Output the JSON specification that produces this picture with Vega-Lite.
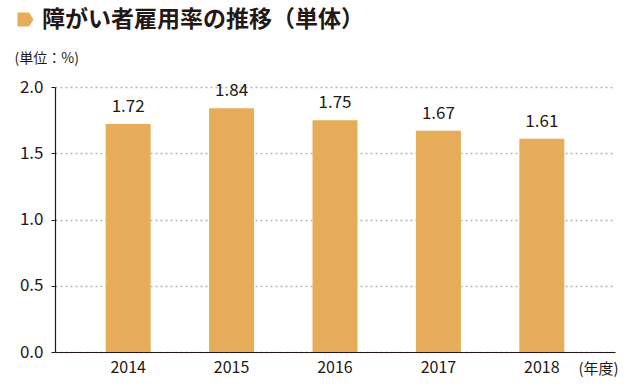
{
  "$schema": "https://vega.github.io/schema/vega-lite/v6.json",
  "autosize": "none",
  "width": 560,
  "height": 265,
  "padding": {"left": 55, "top": 87, "right": 25, "bottom": 38},
  "background": "white",
  "config": {
    "font": "Noto Sans CJK JP",
    "view": {"stroke": null}
  },
  "data": {
    "values": [
      {"year": "2014", "rate": 1.72, "series": "障がい者雇用率の推移（単体）"},
      {"year": "2015", "rate": 1.84, "series": "障がい者雇用率の推移（単体）"},
      {"year": "2016", "rate": 1.75, "series": "障がい者雇用率の推移（単体）"},
      {"year": "2017", "rate": 1.67, "series": "障がい者雇用率の推移（単体）"},
      {"year": "2018", "rate": 1.61, "series": "障がい者雇用率の推移（単体）"}
    ]
  },
  "encoding": {
    "x": {
      "field": "year",
      "type": "nominal",
      "sort": null,
      "scale": {"paddingInner": 0.565, "paddingOuter": 0.49},
      "axis": {
        "title": "(年度)",
        "titleFontSize": 15,
        "titleFontWeight": "normal",
        "titleColor": "#231815",
        "titleAlign": "center",
        "titleBaseline": "middle",
        "titleX": 543,
        "titleY": 16,
        "labelAngle": 0,
        "labelFontSize": 16,
        "labelColor": "#231815",
        "labelPadding": 7,
        "ticks": false,
        "domainColor": "#231815",
        "domainWidth": 1.2,
        "grid": false
      }
    },
    "y": {
      "field": "rate",
      "type": "quantitative",
      "scale": {"domain": [0, 2], "nice": false},
      "axis": {
        "title": "(単位：%)",
        "titleAngle": 0,
        "titleAlign": "left",
        "titleBaseline": "middle",
        "titleX": -41,
        "titleY": -29,
        "titleFontSize": 14,
        "titleFontWeight": "normal",
        "titleColor": "#231815",
        "values": [0, 0.5, 1, 1.5, 2],
        "format": ".1f",
        "labelFontSize": 17,
        "labelColor": "#231815",
        "labelPadding": 8,
        "tickSize": 4,
        "tickColor": "#231815",
        "domainColor": "#231815",
        "domainWidth": 1.2,
        "grid": true,
        "gridColor": "#b5b5b5",
        "gridDash": [2, 3],
        "gridWidth": 1.5
      }
    }
  },
  "layer": [
    {
      "mark": {"type": "bar", "color": "#E6AC5A"},
      "encoding": {
        "color": {
          "field": "series",
          "type": "nominal",
          "scale": {"range": ["#E6AC5A"]},
          "legend": {
            "orient": "none",
            "legendX": -41,
            "legendY": -79,
            "title": null,
            "padding": 0,
            "symbolType": "M-1,-0.875L0.45,-0.875L1,0L0.45,0.875L-1,0.875Z",
            "symbolSize": 256,
            "symbolStrokeWidth": 0,
            "labelFontSize": 23,
            "labelFontWeight": "bold",
            "labelColor": "#231815",
            "labelOffset": 5,
            "labelLimit": 0,
            "encode": {"symbols": {"update": {"fill": {"value": "#E38C30"}, "opacity": {"value": 1}}}}
          }
        }
      }
    },
    {
      "mark": {"type": "text", "baseline": "bottom", "dy": -8, "fontSize": 17, "color": "#231815"},
      "encoding": {
        "text": {"field": "rate", "type": "quantitative", "format": ".2f"}
      }
    }
  ]
}
